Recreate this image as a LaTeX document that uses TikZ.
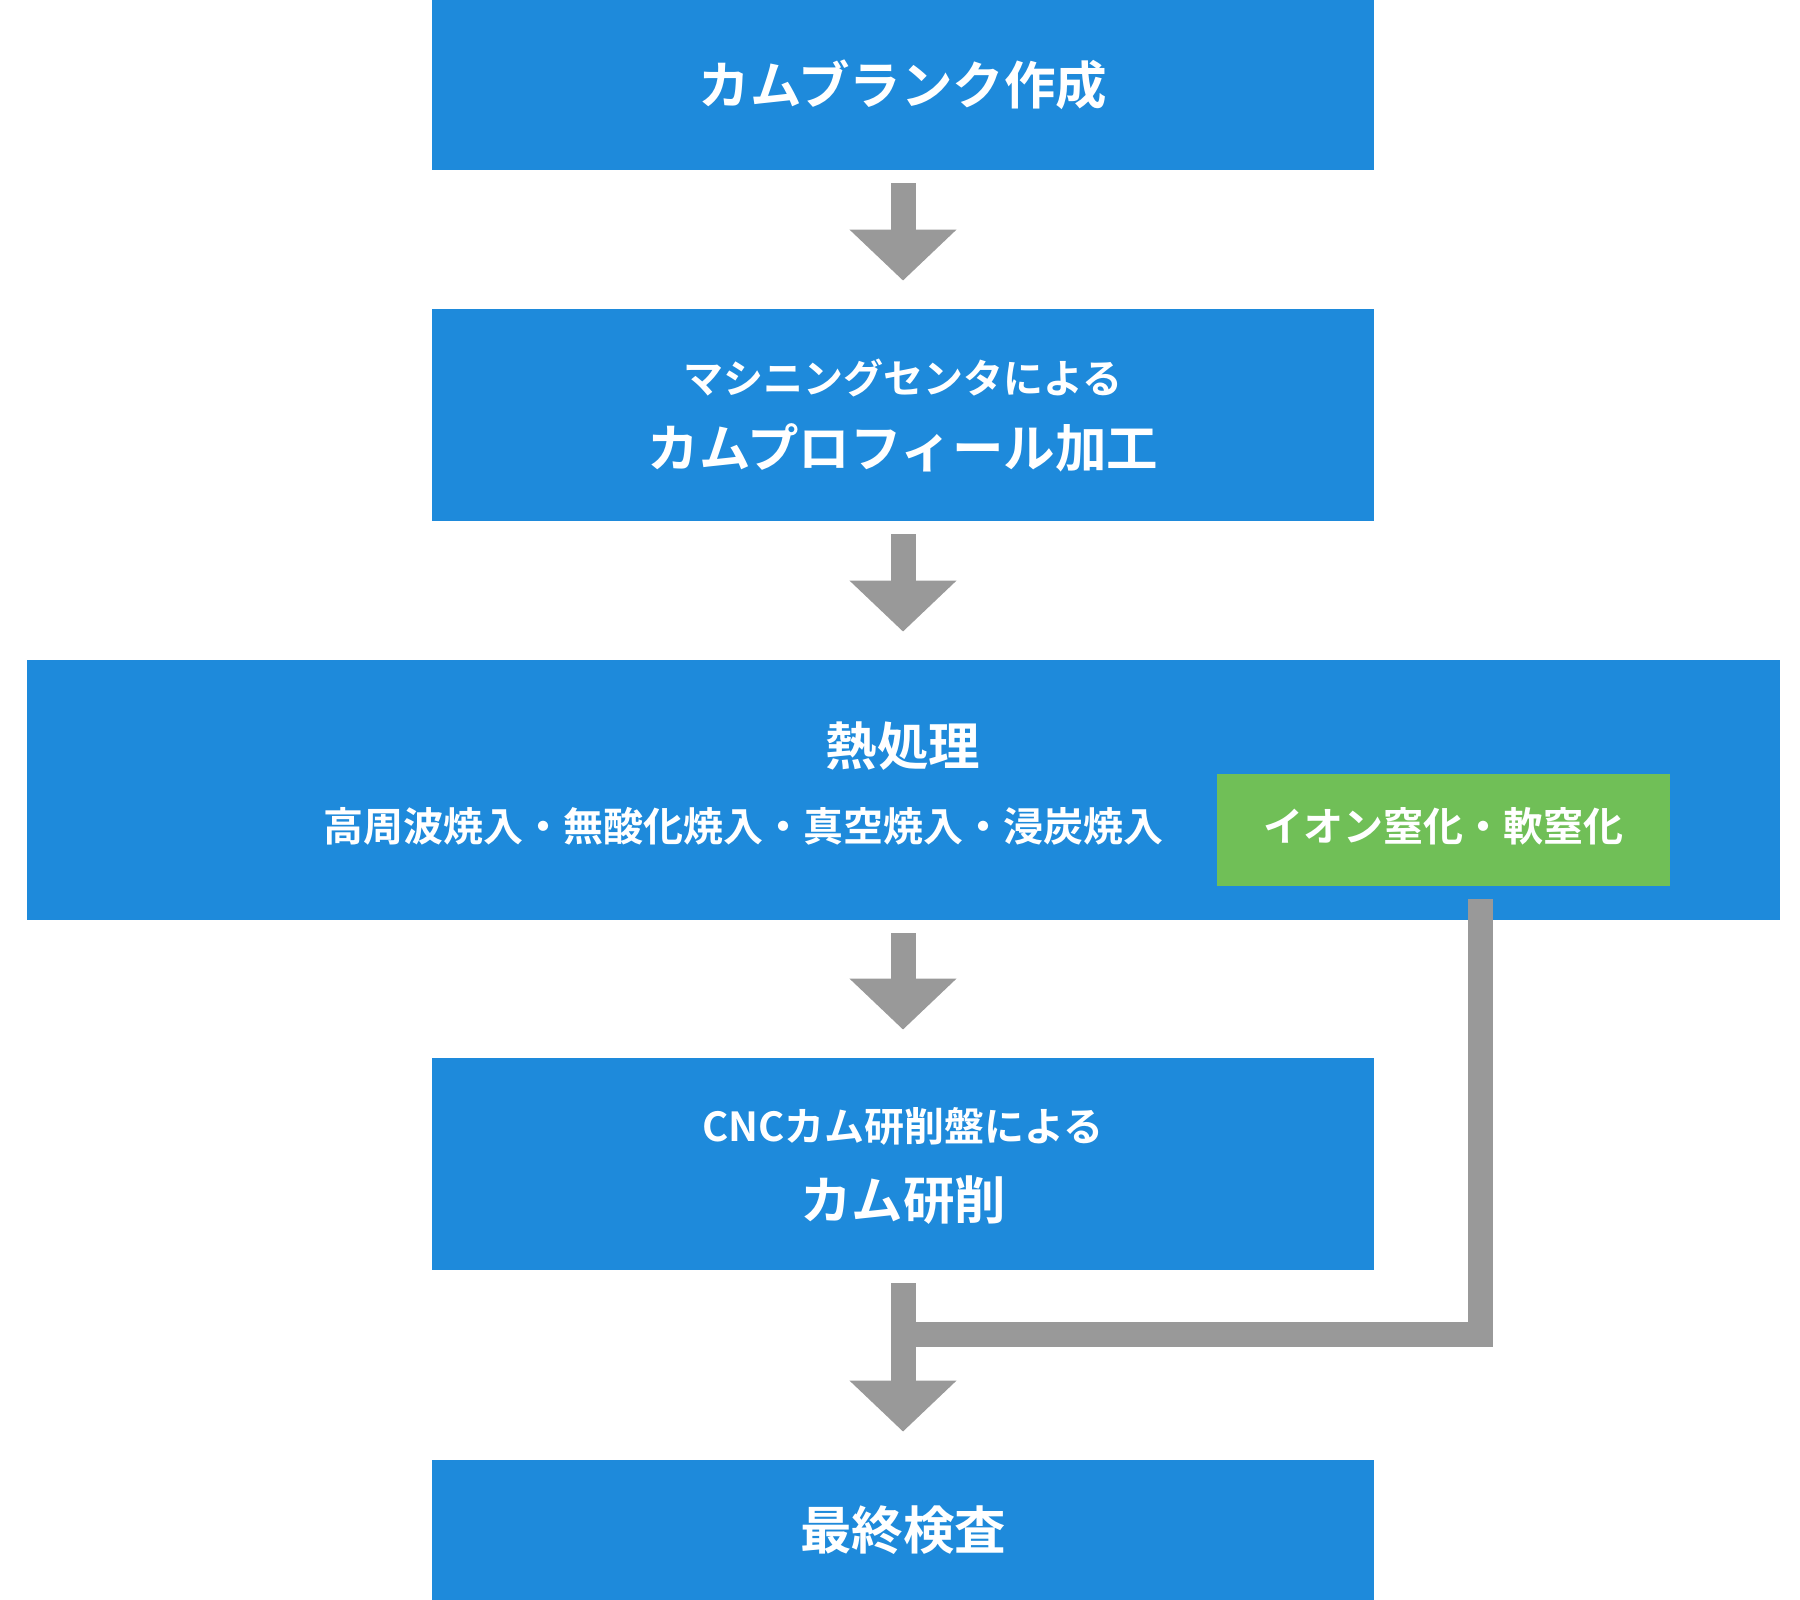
\documentclass[tikz,border=0pt]{standalone}
\usepackage{fontspec}
\usepackage{tikz}
\usetikzlibrary{arrows.meta,positioning}
\newfontfamily\jpfont{Noto Sans CJK JP Bold}

\definecolor{boxblue}{HTML}{1E8ADB}
\definecolor{iongreen}{HTML}{70BF57}
\definecolor{arrowgray}{HTML}{999999}

\tikzset{
  stepbox/.style={fill=boxblue,inner sep=0pt,minimum width=471pt,minimum height=85pt,
    text=white,font=\jpfont\fontsize{25.75}{30}\selectfont},
  maintxt/.style={inner sep=0pt,text=white,font=\jpfont\fontsize{25.75}{30}\selectfont},
  subtxt/.style={inner sep=0pt,text=white,font=\jpfont\fontsize{20}{24}\selectfont},
  flow/.style={draw=arrowgray,line width=12.5pt,-{Triangle[width=52pt,length=25.5pt]},
    shorten <=6.5pt,shorten >=14pt},
  sideline/.style={draw=arrowgray,line width=12.5pt,line join=miter}
}

\begin{document}
\begin{tikzpicture}[x=0.5pt,y=-0.5pt]
            \useasboundingbox (0,0) rectangle (1800,1600);
            % steps
            \node[stepbox] (blank) at (903,85) {カムブランク作成};
            \node[stepbox,minimum height=106pt] (profile) at (903,415) {};
            \node[subtxt] (profilesub) at (903,378) {マシニングセンタによる};
            \node[maintxt] (profilemain) at (903,448) {カムプロフィール加工};
            \node[stepbox,minimum width=876.5pt,minimum height=130pt] (heat) at (903,790) {};
            \node[maintxt] (heatmain) at (903,746) {熱処理};
            \node[subtxt] (heatsub) at (743,826) {高周波焼入・無酸化焼入・真空焼入・浸炭焼入};
            \node[fill=iongreen,inner sep=0pt,minimum width=226.5pt,minimum height=56pt] (ion) at (1443.5,830) {};
            \node[subtxt] (iontxt) at (1443.5,826) {イオン窒化・軟窒化};
            \node[stepbox,minimum height=106pt] (grind) at (903,1164) {};
            \node[subtxt] (grindsub) at (903,1126) {CNCカム研削盤による};
            \node[maintxt] (grindmain) at (903,1200) {カム研削};
            \node[stepbox,minimum height=70pt] (final) at (903,1530) {最終検査};
            % arrows
            \draw[flow] (blank) -- (profile);
            \draw[flow] (profile) -- (heat);
            \draw[flow] (heat) -- (grind);
            \draw[flow] (grind) -- (final);
            \coordinate (ionout) at ([xshift=18.25pt,yshift=-6.5pt]ion.south);
            \coordinate (merge) at (903,1334);
            \draw[sideline] (ionout) |- (merge);
        \end{tikzpicture}
\end{document}
